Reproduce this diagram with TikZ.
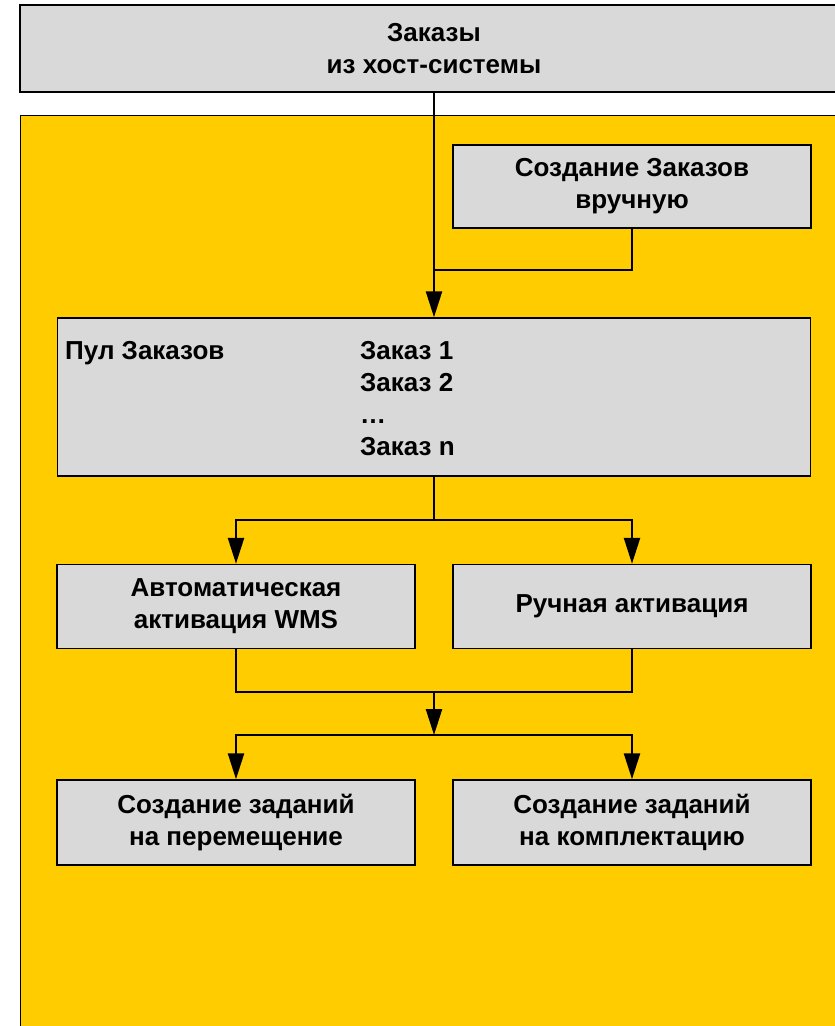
\documentclass[tikz,border=0pt]{standalone}
\usepackage{fontspec}
\setmainfont{Liberation Sans}
\usetikzlibrary{positioning,arrows.meta}
\definecolor{boxgray}{HTML}{D9D9D9}
\definecolor{wmsyellow}{HTML}{FFCC00}

\begin{document}
\begin{tikzpicture}[x=1pt,y=-1pt,box/.style={draw,fill=boxgray,line width=1.5pt,minimum width=358pt,minimum height=84pt,align=center,font=\bfseries\fontsize{26}{32}\selectfont},label/.style={inner sep=0pt,align=left,font=\bfseries\fontsize{26}{32}\selectfont},link/.style={line width=2.5pt},>={Triangle[length=26pt,width=16pt]}]
\useasboundingbox (0,0) rectangle (835,1026);
\draw[fill=wmsyellow,line width=1pt] (20,115) rectangle (860,1045);
\node[box,minimum width=828pt,minimum height=87pt] (host) at (434,48.5) {Заказы\\из хост-системы};
\node[box,minimum height=83pt] (manual) at (632,186.5) {Создание Заказов\\вручную};
\node[box,minimum width=753pt,minimum height=158pt] (pool) at (434,397) {};
\node[label,anchor=north west] (poolname) at (65,341) {Пул Заказов};
\node[label,anchor=north west] (poolitems) at (360,341) {Заказ 1\\Заказ 2\\…\\Заказ n};
\node[box] (auto) at (236,606.5) {Автоматическая\\активация WMS};
\node[box] (handact) at (632,606.5) {Ручная активация};
\node[box,minimum height=85pt] (move) at (236,822.5) {Создание заданий\\на перемещение};
\node[box,minimum height=85pt] (pick) at (632,822.5) {Создание заданий\\на комплектацию};
\coordinate (join1) at (434,270);
\coordinate (split1) at (434,520);
\coordinate (join2) at (434,692);
\coordinate (split2) at (434,735);
\draw[link,->] (host.south) -- (pool.north);
\draw[link] (manual.south) |- (join1);
\draw[link] (pool.south) -- (split1);
\foreach \t in {auto,handact} {
  \draw[link,->] (split1) -| (\t.north);
}
\draw[link] (auto.south) |- (join2) -| (handact.south);
\draw[link,->] (join2) -- (split2);
\foreach \t in {move,pick} {
  \draw[link,->] (split2) -| (\t.north);
}
\end{tikzpicture}
\end{document}
